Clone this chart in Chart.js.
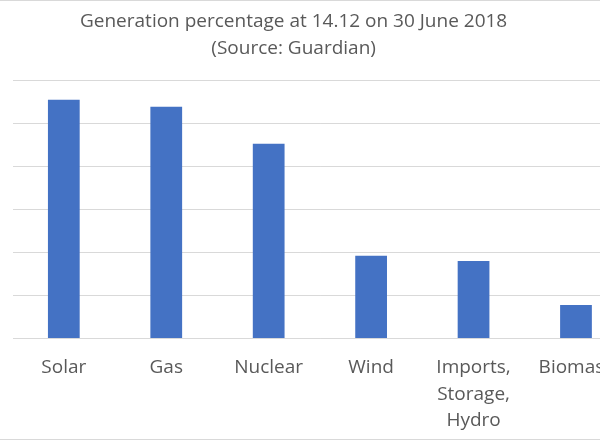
<!DOCTYPE html>
<html>
<head>
<meta charset="utf-8">
<script src="https://cdn.jsdelivr.net/npm/chart.js@4"></script>
<style>
  html, body { margin: 0; padding: 0; width: 600px; height: 440px; overflow: hidden; background: #fff; }
  #wrap { position: absolute; left: -40px; top: 0; width: 680px; height: 440px; }
  #frame { position: absolute; left: 0; top: 0; width: 600px; height: 438px; border-top: 1px solid #d9d9d9; border-bottom: 1px solid #d9d9d9; box-sizing: content-box; pointer-events: none; }
</style>
</head>
<body>
<div id="wrap"><canvas id="c" width="680" height="440"></canvas></div>
<div id="frame"></div>
<script>
const titleLines = ['Generation percentage at 14.12 on 30 June 2018', '(Source: Guardian)'];
const categories = ['Solar', 'Gas', 'Nuclear', 'Wind', ['Imports,', 'Storage,', 'Hydro'], 'Biomass'];
const percentages = [27.7, 26.9, 22.6, 9.6, 9.0, 3.9];
const yTicks = [0, 5, 10, 15, 20, 25, 30];

const textColor = '#595959';
const fontFamily = '"Open Sans", "Noto Sans", sans-serif';

new Chart(document.getElementById('c'), {
  type: 'bar',
  data: {
    labels: categories,
    datasets: [{
      label: 'Generation %',
      data: percentages,
      backgroundColor: '#4472C4',
      borderWidth: 0,
      barPercentage: 1,
      categoryPercentage: 0.31
    }]
  },
  options: {
    responsive: false,
    animation: false,
    layout: { padding: { top: 0, right: 12.8, bottom: 0, left: 0 } },
    plugins: {
      legend: { display: false },
      tooltip: { enabled: false },
      title: {
        display: true,
        text: titleLines,
        color: textColor,
        font: { family: fontFamily, size: 19, weight: 'normal', lineHeight: 1.4 },
        padding: { top: 8.7, bottom: 18.1 }
      }
    },
    scales: {
      x: {
        grid: { display: false, drawTicks: false },
        border: { display: false },
        ticks: {
          color: textColor,
          font: { family: fontFamily, size: 19, lineHeight: 1.4 },
          padding: 16,
          maxRotation: 0,
          autoSkip: false
        },
        afterFit: (scale) => { scale.height = 101.5; }
      },
      y: {
        min: yTicks[0],
        max: yTicks[yTicks.length - 1],
        afterBuildTicks: (scale) => { scale.ticks = yTicks.map(v => ({ value: v })); },
        grid: { color: '#d9d9d9', lineWidth: 1, drawTicks: false },
        border: { display: false },
        ticks: { display: false },
        afterFit: (scale) => { scale.width = 52.6; }
      }
    }
  }
});
</script>
</body>
</html>
